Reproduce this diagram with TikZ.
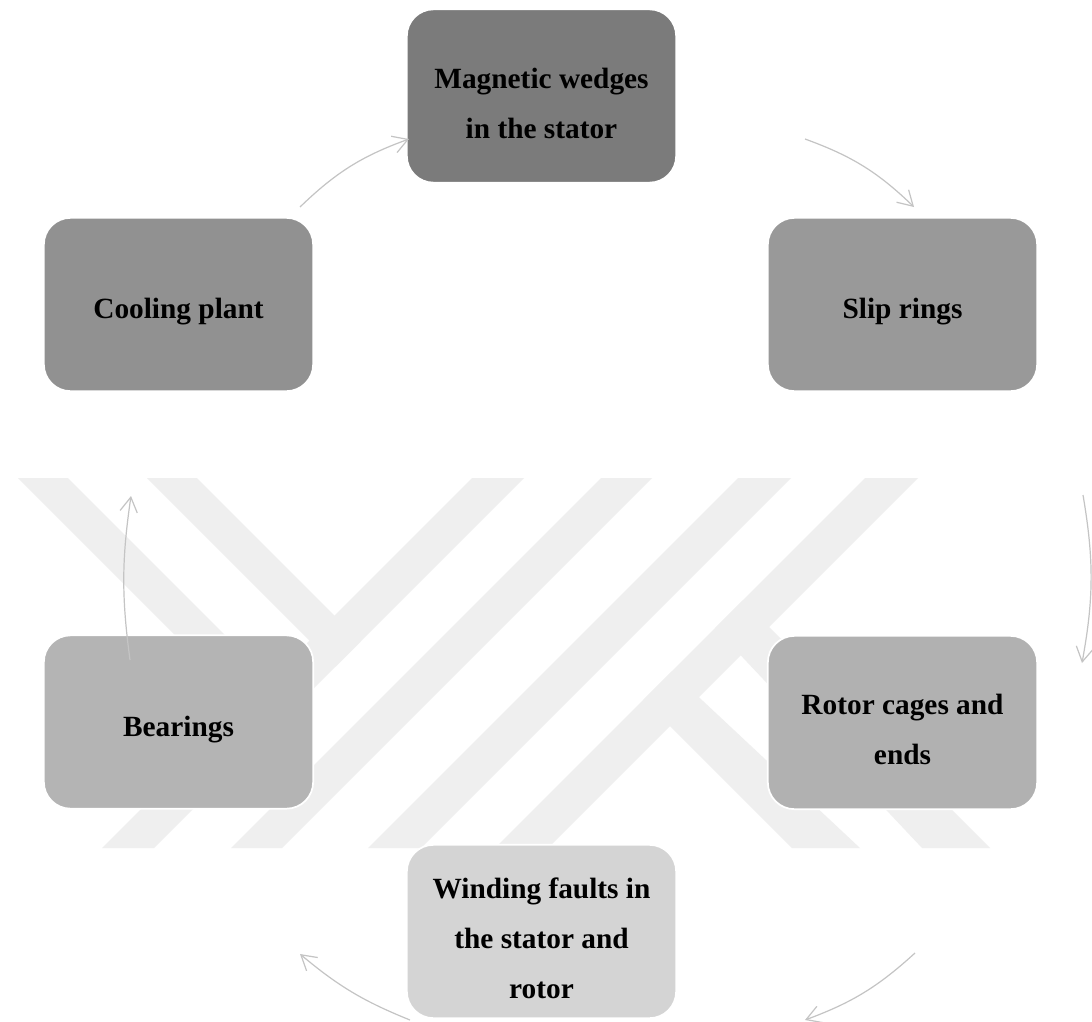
\documentclass[tikz,border=0pt]{standalone}
\usepackage{fontspec}
\setmainfont{Liberation Serif}
\usetikzlibrary{arrows.meta}
\definecolor{wm}{HTML}{EFEFEF}
\definecolor{arrowgray}{HTML}{C4C4C4}
\definecolor{cA}{HTML}{7B7B7B}
\definecolor{cB}{HTML}{999999}
\definecolor{cC}{HTML}{B1B1B1}
\definecolor{cD}{HTML}{D4D4D4}
\definecolor{cE}{HTML}{B4B4B4}
\definecolor{cF}{HTML}{919191}
\newcommand{\upstrut}{\rule{0pt}{26pt}}
\begin{document}
\begin{tikzpicture}[x=0.75pt,y=-0.75pt,
  box/.style={draw=white, line width=1.3pt, rounded corners=20pt,
    minimum width=202pt, minimum height=130pt, align=center, inner sep=0pt,
    font=\fontsize{22}{37.5}\selectfont\bfseries, text=black},
  cyc/.style={draw=arrowgray, line width=0.9pt,
    -{Straight Barb[length=11pt,width=13pt,line width=0.9pt]}}]
\useasboundingbox (0,0) rectangle (1092,1021);
\fill[white] (0,0) rectangle (1092,1021);
% watermark stripes
\fill[wm] (472,478) -- (524,478) -- (154,848) -- (102,848) -- cycle;
\fill[wm] (601,478) -- (652,478) -- (282,848) -- (231,848) -- cycle;
\fill[wm] (738,478) -- (791,478) -- (421,848) -- (368,848) -- cycle;
\fill[wm] (865,478) -- (918,478) -- (548,848) -- (495,848) -- cycle;
\fill[wm] (18,478) -- (68,478) -- (270,680) -- (245,705) -- cycle;
\fill[wm] (147,478) -- (197,478) -- (360.5,641.5) -- (335.5,666.5) -- cycle;
\fill[wm] (671.5,671.5) -- (860,848) -- (792,848) -- (643.5,699.5) -- cycle;
\fill[wm] (742.5,600.5) -- (990,848) -- (922,848) -- (715,628) -- cycle;
% boxes
\node[box, fill=cA] (mag) at (541.5,96) {\upstrut Magnetic wedges\\in the stator};
\node[box, fill=cB] (slip) at (902.5,304.5) {\upstrut Slip rings};
\node[box, fill=cC] (rotor) at (902.5,722.5) {\upstrut Rotor cages and\\ends};
\node[box, fill=cD] (wind) at (541.5,931.5) {\upstrut Winding faults in\\the stator and\\rotor};
\node[box, fill=cE] (bear) at (178.5,722) {\upstrut Bearings};
\node[box, fill=cF] (cool) at (178.5,304.5) {\upstrut Cooling plant};
% arrow end points
\coordinate (a1s) at (300,207);  \coordinate (a1e) at (409,139);
\coordinate (a2s) at (805,139);  \coordinate (a2e) at (914,207);
\coordinate (a3s) at (1083,495); \coordinate (a3e) at (1082,663);
\coordinate (a4s) at (915,953);  \coordinate (a4e) at (805,1020);
\coordinate (a5s) at (410,1020); \coordinate (a5e) at (300,954);
\coordinate (a6s) at (130,660);  \coordinate (a6e) at (131,496);
\draw[cyc] (a1s) to[bend left=12] (a1e);
\draw[cyc] (a2s) to[bend left=12] (a2e);
\draw[cyc] (a3s) to[bend left=10] (a3e);
\draw[cyc] (a4s) to[bend left=11] (a4e);
\draw[cyc] (a5s) to[bend left=9] (a5e);
\draw[cyc] (a6s) to[bend left=8] (a6e);
\end{tikzpicture}
\end{document}
